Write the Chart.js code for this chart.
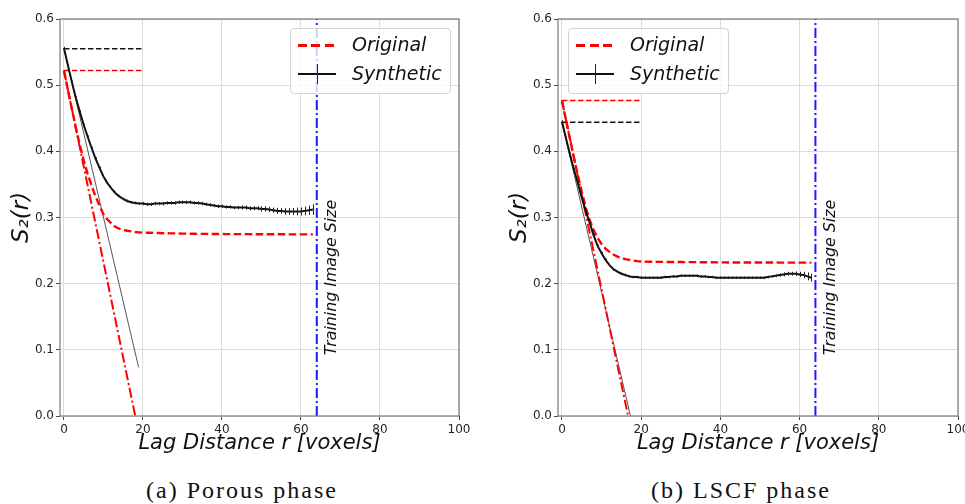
<!DOCTYPE html>
<html>
<head>
<meta charset="utf-8">
<script src="https://cdn.jsdelivr.net/npm/chart.js@4.4.1/dist/chart.umd.min.js"></script>
<style>
  html, body { margin: 0; padding: 0; background: #fff; width: 965px; height: 504px; overflow: hidden; position: relative; }
  canvas { position: absolute; top: 0; }
  .legend { position: absolute; top: 28px; width: 161px; height: 66px; box-sizing: border-box;
            border: 1px solid #d4d4d4; border-radius: 4px; background: rgba(255,255,255,0.8);
            font-family: "DejaVu Sans"; font-style: italic; font-size: 19px; color: #111; }
  .legend .txt { position: absolute; left: 61px; line-height: 22px; white-space: nowrap; }
  .legend .dash { position: absolute; left: 7px; width: 38px; height: 3px;
                  background: repeating-linear-gradient(90deg, #ff0000 0 9px, transparent 9px 13.5px); }
  .legend .solid { position: absolute; left: 7px; width: 38px; height: 2px; background: #111; }
  .legend .bar { position: absolute; left: 26px; width: 1px; height: 20px; background: #222; }
  .caption { position: absolute; top: 477px; font-family: "Liberation Serif"; font-size: 24px;
             letter-spacing: 2px; white-space: nowrap; color: #111; transform: translateX(-50%); }
</style>
</head>
<body>
<canvas id="porous" width="480" height="470" style="left:0"></canvas>
<canvas id="lscf" width="500" height="470" style="left:485px"></canvas>

<div class="legend" style="left:290px">
  <div class="dash" style="top:15px"></div><div class="txt" style="top:4px">Original</div>
  <div class="solid" style="top:44px"></div><div class="bar" style="top:35px"></div><div class="txt" style="top:33px">Synthetic</div>
</div>
<div class="legend" style="left:568px">
  <div class="dash" style="top:15px"></div><div class="txt" style="top:4px">Original</div>
  <div class="solid" style="top:44px"></div><div class="bar" style="top:35px"></div><div class="txt" style="top:33px">Synthetic</div>
</div>

<div class="caption" style="left:242px">(a) Porous phase</div>
<div class="caption" style="left:741px">(b) LSCF phase</div>

<script>
// lag distances in voxels
const lagR = [0,1,2,3,4,5,6,7,8,9,10,11,12,13,14,15,16,17,18,19,20,21,22,23,24,25,26,27,28,29,30,31,
              32,33,34,35,36,37,38,39,40,41,42,43,44,45,46,47,48,49,50,51,52,53,54,55,56,57,58,59,60,61,62,63];

// (a) porous phase
const porousOriginal = [0.522,0.493,0.464,0.436,0.410,0.386,0.366,0.348,0.332,0.318,0.305,0.297,0.291,0.286,0.283,0.281,
  0.280,0.279,0.278,0.2775,0.277,0.277,0.277,0.2767,0.2765,0.2763,0.2762,0.276,0.276,0.2758,0.2757,0.2756,
  0.2755,0.2754,0.2753,0.2752,0.2752,0.2751,0.275,0.275,0.275,0.2749,0.2749,0.2749,0.2748,0.2748,0.2748,0.2748,
  0.2747,0.2747,0.2747,0.2747,0.2746,0.2746,0.2746,0.2746,0.2746,0.2745,0.2745,0.2745,0.2745,0.2745,0.2745,0.2745];
const porousSynthetic = [0.556,0.530,0.505,0.481,0.460,0.440,0.422,0.405,0.389,0.375,0.362,0.352,0.344,0.337,0.332,0.328,
  0.325,0.323,0.322,0.321,0.321,0.320,0.320,0.321,0.321,0.321,0.322,0.322,0.322,0.323,0.323,0.323,
  0.323,0.322,0.322,0.321,0.320,0.319,0.318,0.317,0.317,0.316,0.316,0.315,0.315,0.315,0.315,0.314,
  0.314,0.314,0.313,0.313,0.312,0.311,0.310,0.310,0.309,0.309,0.309,0.309,0.309,0.310,0.311,0.312];
const porousSyntheticErr = [0.002,0.002,0.002,0.002,0.002,0.002,0.002,0.002,0.002,0.002,0.002,0.002,0.002,0.002,0.002,0.002,
  0.002,0.002,0.002,0.002,0.0025,0.0025,0.0025,0.0025,0.0025,0.0025,0.0025,0.0025,0.0025,0.0025,0.0025,0.0025,
  0.0025,0.0025,0.0025,0.0025,0.0025,0.0025,0.0025,0.0025,0.0025,0.0025,0.0025,0.0025,0.0025,0.003,0.003,0.003,
  0.003,0.003,0.004,0.004,0.004,0.004,0.0045,0.0045,0.005,0.005,0.0055,0.006,0.006,0.0065,0.007,0.008];
const porousLevelX = [0, 20];
const porousOriginalLevel = [0.522, 0.522];
const porousSyntheticLevel = [0.555, 0.555];
const porousOriginalSlopeX = [0, 18.05];
const porousOriginalSlopeY = [0.522, 0];
const porousSyntheticSlopeX = [0, 18.9];
const porousSyntheticSlopeY = [0.555, 0.0736];

// (b) LSCF phase
const lscfOriginal = [0.477,0.448,0.419,0.391,0.364,0.339,0.315,0.296,0.281,0.269,0.260,0.253,0.248,0.244,0.241,0.239,
  0.237,0.236,0.235,0.234,0.2335,0.2333,0.2332,0.2331,0.233,0.233,0.2329,0.2328,0.2328,0.2327,0.2327,0.2326,
  0.2326,0.2325,0.2325,0.2324,0.2324,0.2323,0.2323,0.2322,0.2322,0.2322,0.2321,0.2321,0.2321,0.232,0.232,0.232,
  0.232,0.232,0.2319,0.2319,0.2319,0.2319,0.2319,0.2318,0.2318,0.2318,0.2318,0.2318,0.2318,0.2318,0.2318,0.2318];
const lscfSynthetic = [0.445,0.420,0.396,0.373,0.352,0.330,0.310,0.292,0.273,0.257,0.246,0.236,0.228,0.222,0.218,0.215,
  0.213,0.211,0.210,0.210,0.209,0.209,0.209,0.209,0.209,0.209,0.210,0.210,0.211,0.211,0.212,0.212,
  0.212,0.212,0.212,0.211,0.211,0.210,0.210,0.209,0.209,0.209,0.209,0.209,0.209,0.209,0.209,0.209,
  0.209,0.209,0.209,0.209,0.210,0.211,0.212,0.213,0.214,0.215,0.215,0.215,0.214,0.213,0.211,0.209];
const lscfSyntheticErr = [0.002,0.002,0.002,0.002,0.002,0.002,0.002,0.002,0.002,0.002,0.002,0.002,0.002,0.002,0.002,0.002,
  0.002,0.002,0.002,0.002,0.002,0.002,0.002,0.002,0.002,0.002,0.002,0.002,0.002,0.002,0.002,0.002,
  0.002,0.002,0.002,0.002,0.002,0.002,0.002,0.002,0.002,0.002,0.002,0.002,0.002,0.002,0.002,0.002,
  0.002,0.002,0.002,0.002,0.002,0.002,0.002,0.0025,0.003,0.003,0.003,0.0035,0.004,0.005,0.006,0.006];
const lscfLevelX = [0, 20];
const lscfOriginalLevel = [0.477, 0.477];
const lscfSyntheticLevel = [0.444, 0.444];
const lscfOriginalSlopeX = [0, 16.7];
const lscfOriginalSlopeY = [0.477, 0];
const lscfSyntheticSlopeX = [0, 17.3];
const lscfSyntheticSlopeY = [0.444, 0];

const trainingImageSize = 64;
const trainingLineY = [0, 0.6];
const xTicks = [0, 20, 40, 60, 80, 100];
const yTicks = [0, 0.1, 0.2, 0.3, 0.4, 0.5, 0.6];

const pts = (xs, ys) => xs.map((x, i) => ({ x: x, y: ys[i] }));

// vertical error bars for the synthetic curve
const errorBars = {
  id: 'errorBars',
  afterDatasetsDraw(chart, args, opts) {
    const { ctx, scales: { x, y } } = chart;
    ctx.save();
    ctx.strokeStyle = '#222';
    ctx.lineWidth = 1;
    ctx.beginPath();
    opts.xs.forEach((r, i) => {
      const px = Math.round(x.getPixelForValue(r)) + 0.5;
      ctx.moveTo(px, y.getPixelForValue(opts.ys[i] - opts.errs[i]));
      ctx.lineTo(px, y.getPixelForValue(opts.ys[i] + opts.errs[i]));
    });
    ctx.stroke();
    ctx.restore();
  }
};

// frame + rotated label next to the training-size line
const frameAndLabel = {
  id: 'frameAndLabel',
  afterDraw(chart) {
    const { ctx, chartArea: a, scales: { x, y } } = chart;
    ctx.save();
    ctx.strokeStyle = '#7a7a7a';
    ctx.lineWidth = 1.2;
    ctx.strokeRect(a.left, a.top, a.right - a.left, a.bottom - a.top);
    ctx.translate(x.getPixelForValue(trainingImageSize) + 19.5, y.getPixelForValue(0.092));
    ctx.rotate(-Math.PI / 2);
    ctx.font = 'italic 15.8px "DejaVu Sans"';
    ctx.fillStyle = '#111';
    ctx.textAlign = 'left';
    ctx.textBaseline = 'alphabetic';
    ctx.fillText('Training Image Size', 0, 0);
    ctx.restore();
  }
};

function makeChart(id, d) {
  const tickFont = { family: 'DejaVu Sans', size: 12 };
  new Chart(document.getElementById(id), {
    type: 'line',
    data: {
      datasets: [
        { data: pts(lagR, d.synthetic), borderColor: '#111', borderWidth: 2 },
        { data: pts(lagR, d.original), borderColor: '#ff0000', borderWidth: 2.4, borderDash: [7.5, 3.5] },
        { data: pts(d.levelX, d.originalLevel), borderColor: '#ff0000', borderWidth: 1.5, borderDash: [5.5, 2.5] },
        { data: pts(d.levelX, d.syntheticLevel), borderColor: '#111', borderWidth: 1.5, borderDash: [5.5, 2.5] },
        { data: pts(d.origSlopeX, d.origSlopeY), borderColor: '#ff0000', borderWidth: 2, borderDash: [10, 3, 2, 3] },
        { data: pts(d.synSlopeX, d.synSlopeY), borderColor: '#555', borderWidth: 1 },
        { data: pts([trainingImageSize, trainingImageSize], trainingLineY), borderColor: '#1a1aff', borderWidth: 2, borderDash: [10, 3, 2, 3] }
      ]
    },
    options: {
      responsive: false,
      animation: false,
      events: [],
      layout: { padding: { top: 19, right: d.padRight, left: 0, bottom: 0 } },
      elements: { point: { radius: 0 }, line: { tension: 0, fill: false } },
      plugins: {
        legend: { display: false },
        tooltip: { enabled: false },
        errorBars: { xs: lagR, ys: d.synthetic, errs: d.err }
      },
      scales: {
        x: {
          type: 'linear', min: -1, max: 100,
          afterBuildTicks: s => { s.ticks = xTicks.map(v => ({ value: v })); },
          afterFit: s => { s.height = 54; },
          grid: { color: '#dcdcdc', tickColor: '#444', tickLength: 4 },
          border: { display: false },
          ticks: { font: tickFont, color: '#262626', padding: 3, maxRotation: 0 },
          title: { display: true, text: 'Lag Distance r [voxels]', color: '#111',
                   font: { family: 'DejaVu Sans', size: 21, style: 'italic' }, padding: { top: 0, bottom: 14 } }
        },
        y: {
          type: 'linear', min: 0, max: 0.6,
          afterBuildTicks: s => { s.ticks = yTicks.map(v => ({ value: v })); },
          afterFit: s => { s.width = d.axisWidth; },
          grid: { color: '#dcdcdc', tickColor: '#444', tickLength: 4 },
          border: { display: false },
          ticks: { font: tickFont, color: '#262626', padding: 2, callback: v => v.toFixed(1) },
          title: { display: true, text: 'S₂(r)', color: '#111',
                   font: { family: 'DejaVu Sans', size: 23, style: 'italic' }, padding: { top: d.titlePad, bottom: 0 } }
        }
      }
    },
    plugins: [errorBars, frameAndLabel]
  });
}

makeChart('porous', {
  synthetic: porousSynthetic, original: porousOriginal, err: porousSyntheticErr,
  levelX: porousLevelX, originalLevel: porousOriginalLevel, syntheticLevel: porousSyntheticLevel,
  origSlopeX: porousOriginalSlopeX, origSlopeY: porousOriginalSlopeY,
  synSlopeX: porousSyntheticSlopeX, synSlopeY: porousSyntheticSlopeY,
  axisWidth: 60, padRight: 21, titlePad: 8
});
makeChart('lscf', {
  synthetic: lscfSynthetic, original: lscfOriginal, err: lscfSyntheticErr,
  levelX: lscfLevelX, originalLevel: lscfOriginalLevel, syntheticLevel: lscfSyntheticLevel,
  origSlopeX: lscfOriginalSlopeX, origSlopeY: lscfOriginalSlopeY,
  synSlopeX: lscfSyntheticSlopeX, synSlopeY: lscfSyntheticSlopeY,
  axisWidth: 73, padRight: 27, titlePad: 21
});
</script>
</body>
</html>
